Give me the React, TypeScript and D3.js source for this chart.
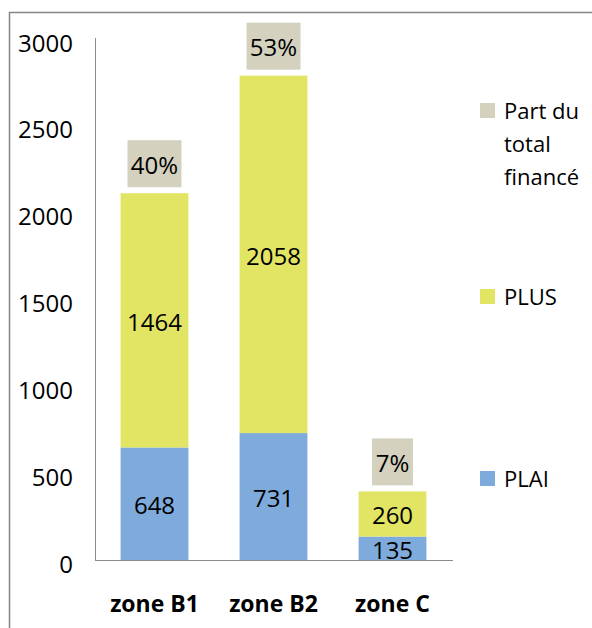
import React from "react";
import * as d3 from "d3";

const categories = ["zone B1", "zone B2", "zone C"];
const plai = [648, 731, 135];
const plus = [1464, 2058, 260];
const shares = ["40%", "53%", "7%"];
const yTicks = [0, 500, 1000, 1500, 2000, 2500, 3000];

const colors = {plai: "#7FABDC", plus: "#E2E464", share: "#D4D1BE"};
const font = "'Open Sans', 'Liberation Sans', sans-serif";

export default function App() {
    const width = 592;
    const height = 628;

    const x = d3.scaleBand<string>()
        .domain(categories)
        .range([95, 452])
        .paddingInner(0.43)
        .paddingOuter(0.215);
    const y = d3.scaleLinear().domain([0, 3000]).range([560, 39]);

    const stack = d3.stack<any>().keys(["plai", "plus"]);
    const rows = categories.map((c, i) => ({cat: c, plai: plai[i], plus: plus[i]}));
    const series = stack(rows);

    const legend = [
        {label: ["Part du", "total", "financé"], color: colors.share, y: 110},
        {label: ["PLUS"], color: colors.plus, y: 296},
        {label: ["PLAI"], color: colors.plai, y: 478},
    ];

    return (
        <svg width={width} height={height} style={{position: "absolute", left: 0, top: 0}}
             fontFamily={font}>
            <rect width={width} height={height} fill="#fff"/>
            {/* outer frame, cut off at right and bottom */}
            <path d="M9.5,640V12.5H600" fill="none" stroke="#858585" strokeWidth={1.5}/>

            {/* y axis */}
            <line x1={95.5} x2={95.5} y1={y(3000) - 1} y2={y(0)} stroke="#8c8c8c" strokeWidth={1}/>
            {yTicks.map(t => (
                <text key={t} x={73} y={y(t) + 3} textAnchor="end" dominantBaseline="central"
                      fontSize={24} fill="#000">{t}</text>
            ))}
            <line x1={95} x2={453} y1={y(0) + 0.5} y2={y(0) + 0.5} stroke="#8c8c8c" strokeWidth={1}/>

            {/* stacked bars */}
            {series.map(s => s.map((d, i) => {
                const x0 = x(categories[i])!;
                const key = s.key as "plai" | "plus";
                const value = d[1] - d[0];
                return (
                    <g key={key + i}>
                        <rect x={x0} width={x.bandwidth()} y={y(d[1])} height={y(d[0]) - y(d[1])}
                              fill={colors[key]}/>
                        <text x={x0 + x.bandwidth() / 2} y={(y(d[0]) + y(d[1])) / 2 + 1}
                              textAnchor="middle" dominantBaseline="central" fontSize={24}
                              fill="#000">{value}</text>
                    </g>
                );
            }))}

            {/* share labels */}
            {categories.map((c, i) => {
                const top = y(plai[i] + plus[i]);
                const w = (shares[i].length - 1) * 13 + 28;
                const cx = x(c)! + x.bandwidth() / 2;
                return (
                    <g key={"share" + c}>
                        <rect x={cx - w / 2} y={top - 53} width={w} height={47} fill={colors.share}/>
                        <text x={cx} y={top - 29} textAnchor="middle" dominantBaseline="central"
                              fontSize={24} fill="#000">{shares[i]}</text>
                    </g>
                );
            })}

            {/* category labels */}
            {categories.map(c => (
                <text key={"cat" + c} x={x(c)! + x.bandwidth() / 2} y={603} textAnchor="middle"
                      dominantBaseline="central" fontSize={23} fontWeight="bold" fill="#000">{c}</text>
            ))}

            {/* legend */}
            {legend.map(l => (
                <g key={l.label[0]}>
                    <rect x={480} y={l.y - 7} width={15} height={15} fill={l.color}/>
                    {l.label.map((t, j) => (
                        <text key={t} x={504} y={l.y + j * 33} dominantBaseline="central"
                              fontSize={22} fill="#000">{t}</text>
                    ))}
                </g>
            ))}
        </svg>
    );
}
